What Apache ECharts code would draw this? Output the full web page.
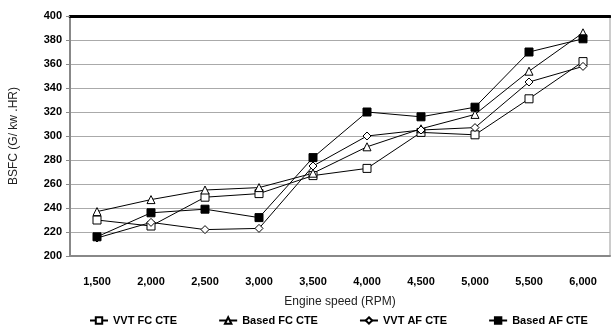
<!DOCTYPE html>
<html>
<head>
<meta charset="utf-8">
<script src="https://cdn.jsdelivr.net/npm/echarts@6/dist/echarts.min.js"></script>
<style>html,body{margin:0;padding:0;background:#fff}#c{width:611px;height:333px}</style>
</head>
<body>
<div id="c"></div>
<script>
const categories = ['1,500','2,000','2,500','3,000','3,500','4,000','4,500','5,000','5,500','6,000'];
const vvtFC   = [230, 225, 249, 252, 267, 273, 303, 301, 331, 362];
const basedFC = [237, 247, 255, 257, 269, 291, 306, 318, 354, 386];
const vvtAF   = [215, 228, 222, 223, 275, 300, 305, 307, 345, 358];
const basedAF = [216, 236, 239, 232, 282, 320, 316, 324, 370, 381];
const yTicks = {min: 200, max: 400, interval: 20};

const font = 'Liberation Sans, Arial, sans-serif';
function mk(name, data, symbol, fill, size) {
  return {
    name, type: 'line', data, symbol, symbolSize: size,
    lineStyle: {color: '#000', width: 1},
    itemStyle: {color: fill, borderColor: '#000', borderWidth: 1},
    emphasis: {disabled: true}
  };
}
const chart = echarts.init(document.getElementById('c'), null, {renderer: 'canvas'});
chart.setOption({
  animation: false,
  backgroundColor: '#fff',
  textStyle: {fontFamily: font},
  grid: {left: 66, right: 1, top: 16, bottom: 77, show: true, borderColor: '#999', borderWidth: 1},
  legend: {
    bottom: 2, left: 84, itemWidth: 18, itemHeight: 8, itemGap: 41,
    textStyle: {fontFamily: font, fontSize: 11, fontWeight: 'bold', color: '#000'},
    data: ['VVT FC CTE', 'Based FC CTE', 'VVT AF CTE', 'Based AF CTE']
  },
  xAxis: [{
    type: 'category', data: categories, boundaryGap: true,
    name: 'Engine speed (RPM)', nameLocation: 'middle', nameGap: 40,
    nameTextStyle: {fontFamily: font, fontSize: 12, color: '#222'},
    axisLine: {lineStyle: {color: '#888', width: 2}},
    axisTick: {show: false},
    axisLabel: {margin: 20, fontFamily: font, fontSize: 11, fontWeight: 'bold', color: '#000'},
    splitLine: {show: false}
  }, {
    type: 'category', data: categories, position: 'top',
    axisLine: {lineStyle: {color: '#000', width: 3}},
    axisTick: {show: false}, axisLabel: {show: false}, splitLine: {show: false}
  }],
  yAxis: {
    type: 'value', min: yTicks.min, max: yTicks.max, interval: yTicks.interval,
    name: 'BSFC (G/ kw .HR)', nameLocation: 'middle', nameGap: 50, nameRotate: 90,
    nameTextStyle: {fontFamily: font, fontSize: 12, color: '#222'},
    axisLine: {show: true, lineStyle: {color: '#888', width: 2}},
    axisTick: {show: true, length: 4, inside: false, lineStyle: {color: '#888'}},
    axisLabel: {margin: 8, fontFamily: font, fontSize: 11, fontWeight: 'bold', color: '#000'},
    splitLine: {lineStyle: {color: '#aaa', width: 1}}
  },
  series: [
    mk('VVT FC CTE', vvtFC, 'rect', '#fff', 8),
    mk('Based FC CTE', basedFC, 'triangle', '#fff', 8),
    mk('VVT AF CTE', vvtAF, 'diamond', '#fff', 8),
    mk('Based AF CTE', basedAF, 'rect', '#000', 8)
  ]
});
</script>
</body>
</html>
